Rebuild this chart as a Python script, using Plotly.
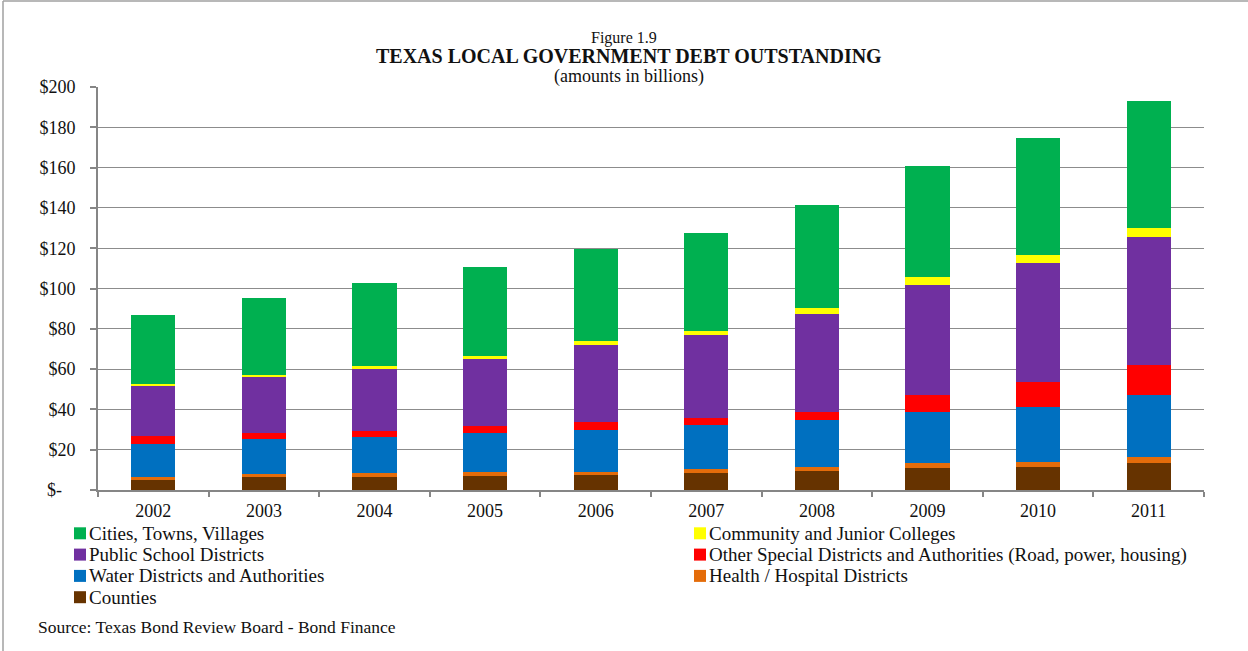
import plotly.graph_objects as go

# Texas local government debt outstanding, $ billions
years = ["2002", "2003", "2004", "2005", "2006", "2007", "2008", "2009", "2010", "2011"]

counties = [5.1, 6.4, 6.3, 7.1, 7.6, 8.2, 9.6, 10.7, 11.2, 13.2]
health_hospital = [1.5, 1.3, 2.3, 2.0, 1.5, 2.2, 2.0, 2.7, 2.7, 3.2]
water = [16.2, 17.6, 17.5, 19.2, 20.5, 21.9, 22.9, 25.3, 27.3, 30.7]
other_special = [3.8, 3.0, 3.0, 3.3, 4.3, 3.4, 4.2, 8.6, 12.2, 14.9]
school = [24.8, 27.6, 30.8, 33.2, 38.2, 41.2, 48.4, 54.6, 59.4, 63.6]
community_colleges = [1.4, 1.2, 1.4, 1.8, 1.8, 2.0, 3.4, 3.6, 3.8, 4.4]
cities = [34.0, 38.2, 41.4, 43.9, 45.5, 48.6, 50.9, 55.3, 58.2, 63.2]

y_ticks = [0, 20, 40, 60, 80, 100, 120, 140, 160, 180, 200]
y_tick_text = ["$-\u00a0\u00a0\u00a0"] + [f"${v}" for v in y_ticks[1:]]

W, H = 1248, 651
L, R, T, B = 98, 44, 87, 161
PW, PH = W - L - R, H - T - B


def px(x):
    return (x - L) / PW


def py(y):
    return (H - B - y) / PH


FONT = "Liberation Serif, Times New Roman, serif"
INK = "#111111"

# bottom-to-top stacking order, with legend column / row for each series
series = [
    ("Counties", counties, "#663300", 0, 3),
    ("Health / Hospital Districts", health_hospital, "#E46C0A", 1, 2),
    ("Water Districts and Authorities", water, "#0070C0", 0, 2),
    ("Other Special Districts and Authorities (Road, power, housing)", other_special, "#FF0000", 1, 1),
    ("Public School Districts", school, "#7030A0", 0, 1),
    ("Community and Junior Colleges", community_colleges, "#FFFF00", 1, 0),
    ("Cities, Towns, Villages", cities, "#00B050", 0, 0),
]

fig = go.Figure()
for name, vals, color, _, _ in series:
    fig.add_trace(go.Bar(
        name=name, x=years, y=vals, marker_color=color,
        marker_line_width=0, showlegend=False,
    ))

# two-column legend below the axis: colour swatch + label
col_x = [74, 694]
row_y = [533.3, 554.6, 575.9, 597.2]
legend_shapes, legend_notes = [], []
for name, _, color, col, row in series:
    x0, yc = col_x[col], row_y[row]
    legend_shapes.append(dict(
        type="rect", xref="paper", yref="paper",
        x0=px(x0), x1=px(x0 + 12), y0=py(yc - 6), y1=py(yc + 6),
        fillcolor=color, line=dict(width=0),
    ))
    legend_notes.append(dict(
        text=name, x=px(x0 + 13), y=py(yc), xref="paper", yref="paper",
        xanchor="left", yanchor="middle", showarrow=False,
        font=dict(family=FONT, size=19, color=INK),
    ))

fig.update_layout(
    width=W, height=H,
    margin=dict(l=L, r=R, t=T, b=B),
    paper_bgcolor="white", plot_bgcolor="white",
    barmode="stack", bargap=0.6,
    font=dict(family=FONT, size=18, color=INK),
    showlegend=False,
    xaxis=dict(
        type="category", showgrid=False,
        showline=True, linecolor="#868686", linewidth=2,
        ticks="outside", tickson="boundaries", ticklen=5, tickcolor="#868686",
        tickwidth=1.5, tickfont=dict(family=FONT, size=18, color=INK),
        ticklabelstandoff=3,
    ),
    yaxis=dict(
        range=[0, 200], tickvals=y_ticks, ticktext=y_tick_text,
        showgrid=True, gridcolor="#8C8C8C", gridwidth=1,
        showline=True, linecolor="#868686", linewidth=2,
        ticks="outside", ticklen=6, tickcolor="#868686", tickwidth=1.5,
        tickfont=dict(family=FONT, size=18, color=INK),
        ticklabelstandoff=11, zeroline=False,
    ),
    annotations=[
        dict(text="Figure 1.9", x=px(624), y=py(38), xref="paper", yref="paper",
             xanchor="center", yanchor="middle", showarrow=False,
             font=dict(family=FONT, size=16, color=INK)),
        dict(text="<b>TEXAS LOCAL GOVERNMENT DEBT OUTSTANDING</b>", x=px(629), y=py(56),
             xref="paper", yref="paper", xanchor="center", yanchor="middle",
             showarrow=False, font=dict(family=FONT, size=20, color=INK)),
        dict(text="(amounts in billions)", x=px(629), y=py(76), xref="paper", yref="paper",
             xanchor="center", yanchor="middle", showarrow=False,
             font=dict(family=FONT, size=18, color=INK)),
        dict(text="Source: Texas Bond Review Board - Bond Finance", x=px(36), y=py(627),
             xref="paper", yref="paper", xanchor="left", yanchor="middle", showarrow=False,
             font=dict(family=FONT, size=17.5, color=INK)),
    ] + legend_notes,
    shapes=[
        dict(type="line", xref="paper", yref="paper", x0=px(3), x1=px(1250),
             y0=py(1), y1=py(1), line=dict(color="#A0A0A0", width=1.5)),
        dict(type="line", xref="paper", yref="paper", x0=px(3), x1=px(3),
             y0=py(1), y1=py(652), line=dict(color="#A0A0A0", width=1.5)),
    ] + legend_shapes,
)

fig.write_html("out.html")
